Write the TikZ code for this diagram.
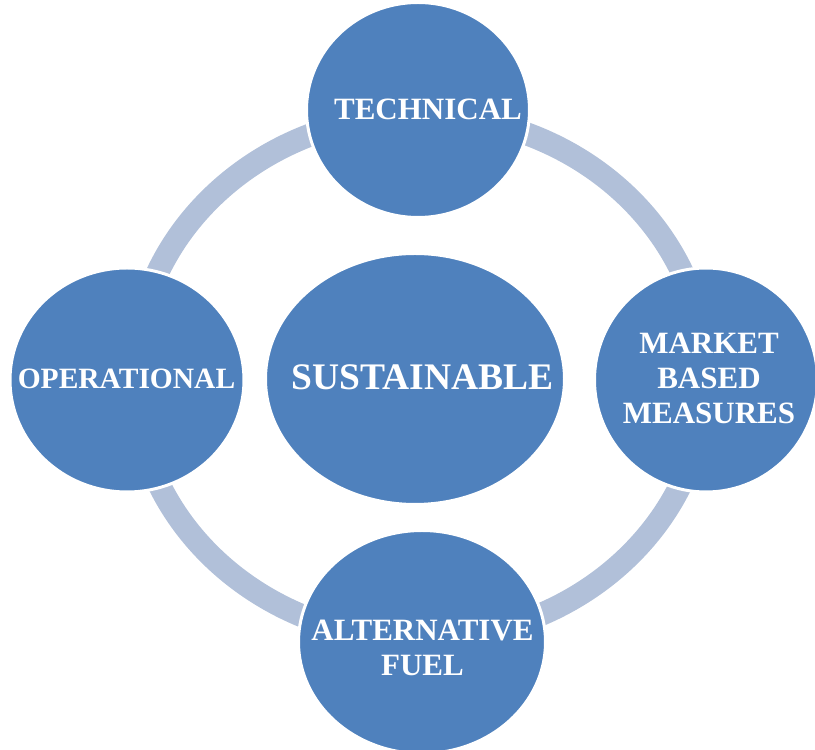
\documentclass[tikz,border=0pt]{standalone}
\usepackage{fontspec}
\setmainfont{Liberation Serif}
\usetikzlibrary{shapes.geometric}
\definecolor{blobblue}{RGB}{79,129,189}
\definecolor{ringblue}{RGB}{177,192,217}
\tikzset{
  blob/.style={ellipse, fill=blobblue, draw=white, line width=3pt, inner sep=0pt},
  lbl/.style={text=white, font=\bfseries\fontsize{31}{35}\selectfont, align=center, inner sep=0pt},
  biglbl/.style={text=white, font=\bfseries\fontsize{37.5}{40}\selectfont, inner sep=0pt},
  ring/.style={draw=ringblue, line width=23pt}
}
\begin{document}
\begin{tikzpicture}[x=1pt,y=1pt]
\useasboundingbox (0,0) rectangle (815,750);
% ring
\coordinate (rc) at (420,373);
\draw[ring] (rc) ellipse [x radius=286, y radius=262];
% circles
\node[blob, minimum width=223pt, minimum height=215pt] (tech) at (418,640) {};
\node[blob, minimum width=234pt, minimum height=224pt] (oper) at (127,370) {};
\node[blob, minimum width=223pt, minimum height=224pt] (mkt) at (706,370) {};
\node[blob, minimum width=247pt, minimum height=223pt] (alt) at (422,108) {};
\node[blob, minimum width=299pt, minimum height=251pt] (sust) at (415,371) {};
% labels
\node[lbl, anchor=base] (techt) at (428,630) {TECHNICAL};
\node[lbl, anchor=base, font=\bfseries\fontsize{29.5}{35}\selectfont] (opert) at (126.5,361) {OPERATIONAL};
\node[lbl] (mktt) at (709,371.5) {MARKET\\BASED\\MEASURES};
\node[lbl] (altt) at (422.5,102) {ALTERNATIVE\\FUEL};
\node[biglbl, anchor=base] (sustt) at (422.5,360) {SUSTAINABLE};
\end{tikzpicture}
\end{document}
